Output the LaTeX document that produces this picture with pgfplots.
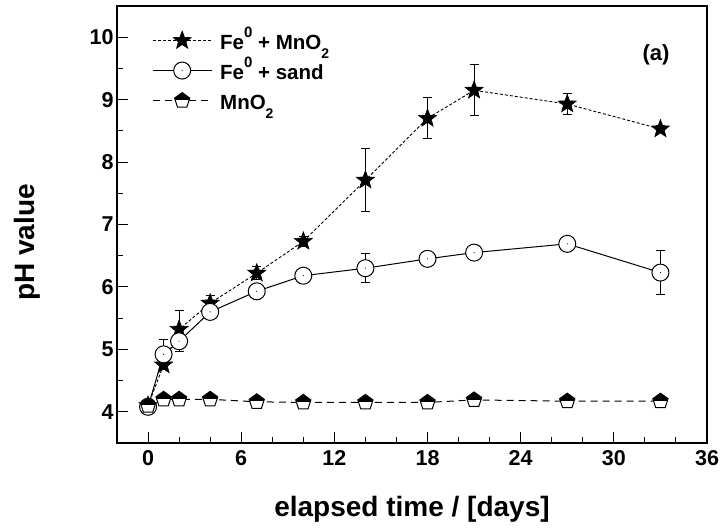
\documentclass[border=0pt]{standalone}
\usepackage{fontspec}
\setmainfont{Liberation Sans}
\usepackage{pgfplots}
\pgfplotsset{compat=1.18}

\pgfdeclareplotmark{fstar}{%
  \pgfpathmoveto{\pgfpointpolar{90}{\pgfplotmarksize}}%
  \pgfpathlineto{\pgfpointpolar{126}{0.42\pgfplotmarksize}}%
  \pgfpathlineto{\pgfpointpolar{162}{\pgfplotmarksize}}%
  \pgfpathlineto{\pgfpointpolar{198}{0.42\pgfplotmarksize}}%
  \pgfpathlineto{\pgfpointpolar{234}{\pgfplotmarksize}}%
  \pgfpathlineto{\pgfpointpolar{270}{0.42\pgfplotmarksize}}%
  \pgfpathlineto{\pgfpointpolar{306}{\pgfplotmarksize}}%
  \pgfpathlineto{\pgfpointpolar{342}{0.42\pgfplotmarksize}}%
  \pgfpathlineto{\pgfpointpolar{18}{\pgfplotmarksize}}%
  \pgfpathlineto{\pgfpointpolar{54}{0.42\pgfplotmarksize}}%
  \pgfpathclose
  \pgfsetfillcolor{black}%
  \pgfusepathqfillstroke}

\pgfdeclareplotmark{dotcircle}{%
  \pgfscope
  \pgfpathcircle{\pgfpointorigin}{\pgfplotmarksize}%
  \pgfsetfillcolor{white}%
  \pgfusepathqfillstroke
  \pgfpathcircle{\pgfpointorigin}{0.6pt}%
  \pgfsetfillcolor{black}%
  \pgfusepathqfill
  \endpgfscope}

\def\pentpath{%
  \pgfpathmoveto{\pgfpointpolar{90}{\pgfplotmarksize}}%
  \pgfpathlineto{\pgfpointpolar{162}{\pgfplotmarksize}}%
  \pgfpathlineto{\pgfpointpolar{234}{\pgfplotmarksize}}%
  \pgfpathlineto{\pgfpointpolar{306}{\pgfplotmarksize}}%
  \pgfpathlineto{\pgfpointpolar{18}{\pgfplotmarksize}}%
  \pgfpathclose}
\pgfdeclareplotmark{hpent}{%
  \pgfscope
  \pentpath\pgfsetfillcolor{white}\pgfusepathqfill
  \endpgfscope
  \pgfscope
  \pentpath\pgfusepath{clip}%
  \pgfpathrectangle{\pgfpoint{-2\pgfplotmarksize}{0.05\pgfplotmarksize}}{\pgfpoint{4\pgfplotmarksize}{2\pgfplotmarksize}}%
  \pgfsetfillcolor{black}\pgfusepathqfill
  \endpgfscope
  \pentpath\pgfusepathqstroke}

\newcommand\sups[1]{\raisebox{12.5pt}{\fontsize{15}{15}\selectfont #1}}
\newcommand\subs[1]{\raisebox{-8.5pt}{\fontsize{14}{14}\selectfont #1}}

\pgfplotstableread{
x y e
0 4.10 0.04
1 4.75 0.08
2 5.32 0.30
4 5.74 0.13
7 6.22 0.10
10 6.73 0.08
14 7.71 0.50
18 8.70 0.33
21 9.15 0.41
27 8.93 0.17
33 8.53 0.05
}\starTab

\pgfplotstableread{
x y e
0 4.08 0.05
1 4.92 0.23
2 5.13 0.17
4 5.60 0.05
7 5.93 0.08
10 6.18 0.10
14 6.30 0.23
18 6.45 0.06
21 6.55 0.10
27 6.69 0.05
33 6.23 0.35
}\sandTab

\pgfplotstableread{
x y e
0 4.10 0.05
1 4.20 0.05
2 4.20 0.05
4 4.20 0.05
7 4.16 0.05
10 4.15 0.05
14 4.15 0.05
18 4.15 0.05
21 4.19 0.05
27 4.17 0.05
33 4.17 0.05
}\mnTab

\begin{document}
\begin{tikzpicture}
\useasboundingbox (-117pt,-85pt) rectangle (606pt,443pt);
\begin{axis}[
  at={(0pt,0pt)}, anchor=south west,
  scale only axis, width=590pt, height=437pt,
  xmin=-2, xmax=36, ymin=3.5, ymax=10.5,
  xtick={0,6,...,36}, minor x tick num=2,
  ytick={4,5,...,10}, minor y tick num=1,
  tick align=inside, xtick pos=left, ytick pos=left,
  major tick length=11pt, minor tick length=6pt,
  every tick/.style={black, line width=1pt},
  axis line style={line width=2pt},
  /pgf/number format/assume math mode=true,
  tick label style={font=\bfseries\fontsize{21.5}{24}\selectfont},
  xticklabel style={yshift=-4pt},
  label style={font=\bfseries\fontsize{28}{32}\selectfont},
  xlabel={elapsed time / [days]},
  ylabel={pH value},
  xlabel style={at={(axis description cs:0.5,-0.151)}, anchor=center},
  ylabel style={at={(axis description cs:-0.1525,0.459)}, anchor=center},
  legend style={at={(rel axis cs:0.0593,0.958)}, anchor=north west, draw=none, fill=none,
    inner sep=0pt, font=\bfseries\fontsize{20.5}{24}\selectfont, row sep=-6pt, column sep=7pt,
    nodes={inner sep=1pt, text height=24pt, text depth=10pt}},
  legend cell align=left,
  legend image code/.code={\draw[mark repeat=2,mark phase=2] plot coordinates {(0pt,2pt)(29.5pt,2pt)(59pt,2pt)};},
  clip=false,
]
\addplot[black, line width=0.9pt, dash pattern=on 3pt off 2pt, mark=fstar, mark size=9.5pt,
  mark options={solid, line width=0.6pt}]
  table[x=x, y=y] {\starTab};
\addlegendentry{Fe\sups{0} + MnO\subs{2}}
\addplot[black, line width=1pt, mark=dotcircle, mark size=8.5pt,
  mark options={solid, line width=1pt}]
  table[x=x, y=y] {\sandTab};
\addlegendentry{Fe\sups{0} + sand}
\addplot[black, line width=1pt, dash pattern=on 7pt off 5pt, mark=hpent, mark size=8pt,
  mark options={solid, line width=1pt}]
  table[x=x, y=y] {\mnTab};
\addlegendentry{MnO\subs{2}}

\pgfplotsset{errs/.style={forget plot, draw=none, mark=none,
  error bars/.cd, y dir=both, y explicit,
  error bar style={draw=black, solid, line width=1pt},
  error mark options={draw=black, rotate=90, mark size=4.5pt, line width=1pt, solid}}}
\addplot[errs] table[x=x, y=y, y error=e] {\starTab};
\addplot[errs] table[x=x, y=y, y error=e] {\sandTab};
\addplot[errs] table[x=x, y=y, y error=e] {\mnTab};

\node[font=\bfseries\fontsize{22}{24}\selectfont] at (rel axis cs:0.9136,0.888) {(a)};
\end{axis}
\end{tikzpicture}
\end{document}
